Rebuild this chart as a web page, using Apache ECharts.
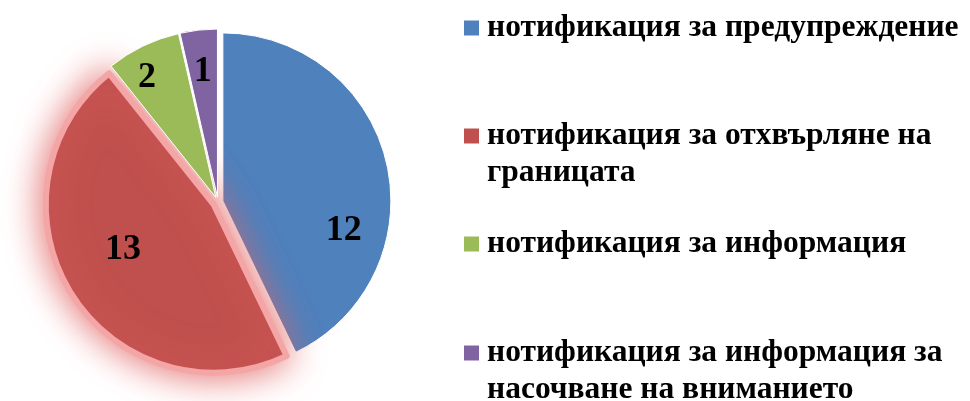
<!DOCTYPE html>
<html>
<head>
<meta charset="utf-8">
<script src="https://cdn.jsdelivr.net/npm/echarts@6/dist/echarts.min.js"></script>
<style>html,body{margin:0;padding:0;background:#fff;}#c{width:970px;height:401px;}</style>
</head>
<body>
<div id="c"></div>
<script>
// Data
var categories = [
  'нотификация за предупреждение',
  'нотификация за отхвърляне на границата',
  'нотификация за информация',
  'нотификация за информация за насочване на вниманието'
];
var values = [12, 13, 2, 1];

// Styles (kept separate from data)
var colors = ['#4F81BD', '#C0504D', '#9BBB59', '#8064A2'];
var labelOffsets = [[36, 49], [-17, -1], [-31, -41], [-5, -39]];
var legendIconCenters = [28, 136, 244, 353];
var legendBreakAfter = [0, 4, 0, 4]; // words on first line (0 = no wrap)
var LH = 37;

var chart = echarts.init(document.getElementById('c'), null, {renderer: 'canvas'});

var pieData = categories.map(function (name, i) {
  var item = {
    name: name,
    value: values[i],
    selected: true,
    itemStyle: {color: colors[i]}
  };
  if (i === 1) {
    item.itemStyle.shadowColor = 'rgba(226,100,100,1)';
    item.itemStyle.shadowBlur = 36;
    item.itemStyle.borderColor = 'rgba(244,165,165,1)';
    item.itemStyle.borderWidth = 6;
  } else {
    item.itemStyle.borderColor = '#ffffff';
    item.itemStyle.borderWidth = 1;
  }
  return item;
});

var legends = categories.map(function (name, i) {
  var wrap = legendBreakAfter[i] > 0;
  return {
    data: [name],
    orient: 'vertical',
    left: 464,
    top: wrap ? legendIconCenters[i] - (LH * 3) / 2 : legendIconCenters[i] - LH / 2,
    padding: 0,
    icon: 'rect',
    itemWidth: 15,
    itemHeight: 15,
    itemStyle: {borderWidth: 0, shadowBlur: 0},
    selectedMode: false,
    formatter: function (n) {
      var k = legendBreakAfter[i];
      if (!k) return n;
      var w = n.split(' ');
      // leading blank line keeps the first text line level with the icon
      return ' \n' + w.slice(0, k).join(' ') + '\n' + w.slice(k).join(' ');
    },
    textStyle: {
      fontFamily: 'Liberation Serif',
      fontWeight: 'bold',
      fontSize: 31.5,
      lineHeight: LH,
      color: '#000',
      padding: [0, 0, 0, 3]
    }
  };
});

chart.setOption({
  animation: false,
  backgroundColor: '#fff',
  legend: legends,
  series: [{
    type: 'pie',
    center: [218, 202],
    radius: 168,
    startAngle: 90,
    clockwise: true,
    selectedMode: 'multiple',
    selectedOffset: 5,
    avoidLabelOverlap: false,
    label: {
      show: true,
      position: 'inside',
      formatter: '{c}',
      fontFamily: 'Liberation Serif',
      fontWeight: 'bold',
      fontSize: 36,
      color: '#000'
    },
    labelLayout: function (p) {
      var o = labelOffsets[p.dataIndex];
      return {dx: o[0], dy: o[1]};
    },
    labelLine: {show: false},
    emphasis: {scale: false},
    data: pieData
  }]
});
</script>
</body>
</html>
